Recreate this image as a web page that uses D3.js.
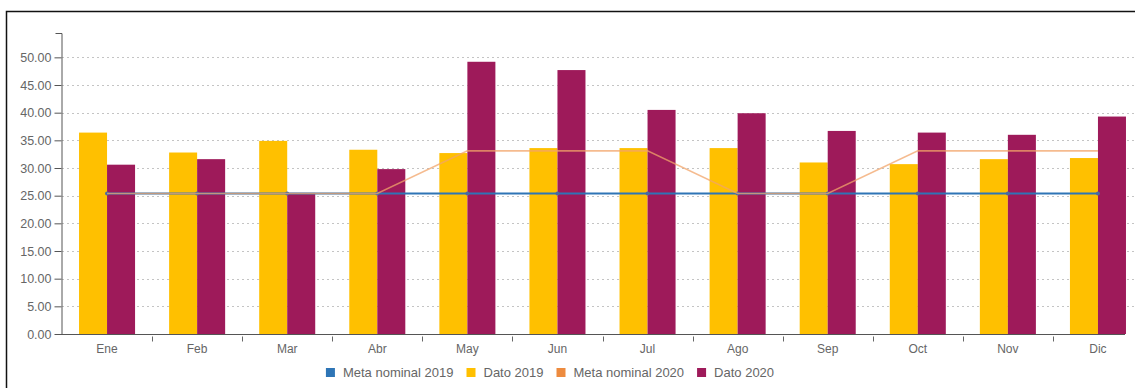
<!DOCTYPE html>
<html>
<head>
<meta charset="utf-8">
<script src="https://cdn.jsdelivr.net/npm/d3@7"></script>
<style>
  html, body { margin: 0; padding: 0; background: #fff; }
  svg { display: block; font-family: "Liberation Sans", Arial, sans-serif; }
</style>
</head>
<body>
<svg id="chart" width="1135" height="388"></svg>
<script>
const months = ["Ene","Feb","Mar","Abr","May","Jun","Jul","Ago","Sep","Oct","Nov","Dic"];
const dato2019 = [36.4, 32.8, 34.9, 33.3, 32.7, 33.6, 33.6, 33.6, 31.0, 30.7, 31.6, 31.8];
const dato2020 = [30.6, 31.6, 25.5, 29.8, 49.2, 47.7, 40.5, 39.9, 36.7, 36.4, 36.0, 39.3];
const meta2019 = [25.4, 25.4, 25.4, 25.4, 25.4, 25.4, 25.4, 25.4, 25.4, 25.4, 25.4, 25.4];
const meta2020 = [25.4, 25.4, 25.4, 25.4, 33.1, 33.1, 33.1, 25.4, 25.4, 33.1, 33.1, 33.1];
const yTicks = [0, 5, 10, 15, 20, 25, 30, 35, 40, 45, 50];
const legendNames = ["Meta nominal 2019", "Dato 2019", "Meta nominal 2020", "Dato 2020"];
const colors = {
  "Meta nominal 2019": "#2E75B6",
  "Dato 2019": "#FFC000",
  "Meta nominal 2020": "#ED8B3F",
  "Dato 2020": "#9E1A5A"
};

const svg = d3.select("#chart");
const W = 1135, H = 388;

// outer frame (top & left visible)
svg.append("rect").attr("x", 6.5).attr("y", 11.5).attr("width", W + 20).attr("height", H + 20)
  .attr("fill", "none").attr("stroke", "#111").attr("stroke-width", 1.5);

const y = d3.scaleLinear().domain([0, 54.4]).range([334, 33]);
const x = d3.scaleBand().domain(months).range([62, 1143]).paddingInner(0.378).paddingOuter(0.189);
const x1 = d3.scaleBand().domain(["Dato 2019", "Dato 2020"]).range([0, x.bandwidth()]).padding(0);

// gridlines
svg.append("g").selectAll("line").data(yTicks.filter(d => d > 0)).join("line")
  .attr("x1", 62).attr("x2", W).attr("y1", d => Math.round(y(d)) + 0.5).attr("y2", d => Math.round(y(d)) + 0.5)
  .attr("stroke", "#c4c4c4").attr("stroke-width", 1).attr("stroke-dasharray", "2,3");

// bars
const bars = svg.append("g");
months.forEach((m, i) => {
  [["Dato 2019", dato2019[i]], ["Dato 2020", dato2020[i]]].forEach(([s, v]) => {
    bars.append("rect")
      .attr("x", x(m) + x1(s))
      .attr("width", x1.bandwidth())
      .attr("y", y(v))
      .attr("height", y(0) - y(v))
      .attr("fill", colors[s]);
  });
});

// lines
const cx = m => x(m) + x.bandwidth() / 2;
const line = d3.line().x(d => cx(d[0])).y(d => y(d[1]));
svg.append("path").datum(months.map((m, i) => [m, meta2019[i]]))
  .attr("d", line).attr("fill", "none").attr("stroke", colors["Meta nominal 2019"]).attr("stroke-width", 2);
svg.append("g").selectAll("circle").data(months.map((m, i) => [m, meta2019[i]])).join("circle")
  .attr("cx", d => cx(d[0])).attr("cy", d => y(d[1])).attr("r", 2).attr("fill", "#4a6aa0");
svg.append("path").datum(months.map((m, i) => [m, meta2020[i]]))
  .attr("d", line).attr("fill", "none").attr("stroke", "#F2A46A").attr("stroke-opacity", 0.75).attr("stroke-width", 1.6);

// y axis
const yAxis = d3.axisLeft(y).tickValues(yTicks).tickFormat(d3.format(".2f")).tickSize(7).tickSizeOuter(6).tickPadding(3);
const gy = svg.append("g").attr("transform", "translate(61.5,0)").call(yAxis);
gy.select(".domain").attr("stroke", "#555");
gy.selectAll(".tick line").attr("stroke", "#555");
gy.selectAll("text").attr("fill", "#666").attr("font-size", 12.5).attr("font-family", "Liberation Sans, Arial, sans-serif");

// x axis
const xAxis = d3.axisBottom(x).tickSize(0).tickPadding(10);
const gx = svg.append("g").attr("transform", "translate(0,334.5)").call(xAxis);
gx.select(".domain").remove();
gx.selectAll("text").attr("fill", "#666").attr("font-size", 12).attr("font-family", "Liberation Sans, Arial, sans-serif");
gx.append("line").attr("x1", 61).attr("x2", 1125).attr("y1", 0).attr("y2", 0).attr("stroke", "#555");
const bounds = months.slice(1).map((m, i) => (x(months[i]) + x.bandwidth() + x(m)) / 2);
gx.selectAll(".sep").data(bounds).join("line").attr("class", "sep")
  .attr("x1", d => Math.round(d) + 0.5).attr("x2", d => Math.round(d) + 0.5)
  .attr("y1", 2).attr("y2", 7).attr("stroke", "#666");

// legend
const leg = svg.append("g");
const items = legendNames.map(n => {
  const g = leg.append("g");
  g.append("rect").attr("width", 9).attr("height", 9).attr("y", 368).attr("fill", colors[n]);
  const t = g.append("text").attr("x", 17).attr("y", 377).attr("font-size", 13).attr("fill", "#666").text(n);
  return { g, w: 17 + t.node().getComputedTextLength() };
});
const gap = 13;
const total = d3.sum(items, d => d.w) + gap * (items.length - 1);
let lx = 550 - total / 2;
items.forEach(it => { it.g.attr("transform", `translate(${lx},0)`); lx += it.w + gap; });
</script>
</body>
</html>
